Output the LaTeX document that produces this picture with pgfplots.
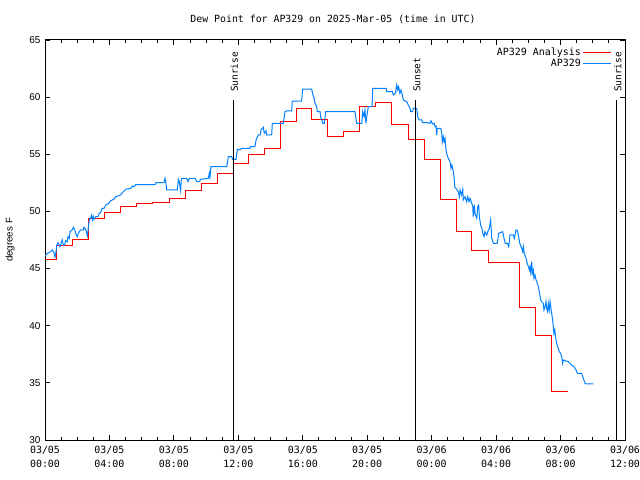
\documentclass[border=0pt]{standalone}
\usepackage{fontspec}
\setmainfont{DejaVu Sans Mono}
\newfontfamily\lsans{Liberation Sans}
\usepackage{pgfplots}
\pgfplotsset{compat=1.18}
\definecolor{obsblue}{RGB}{0,128,255}
\definecolor{anared}{RGB}{255,0,0}
\begin{document}
\begin{tikzpicture}
\path[use as bounding box] (0bp,0bp) rectangle (640bp,480bp);
\node[font=\fontsize{9.9}{11}\selectfont] at (333bp,461bp) {Dew Point for AP329 on 2025-Mar-05 (time in UTC)};
\node[rotate=90, font=\lsans\fontsize{9.8}{11}\selectfont] at (10bp,240bp) {degrees F};
\begin{axis}[
  at={(45bp,40bp)}, anchor=south west,
  scale only axis, width=580bp, height=400bp,
  xmin=0, xmax=36, ymin=30, ymax=65,
  xtick={0,4,...,36},
  xticklabels={{03/05\\00:00},{03/05\\04:00},{03/05\\08:00},{03/05\\12:00},{03/05\\16:00},{03/05\\20:00},{03/06\\00:00},{03/06\\04:00},{03/06\\08:00},{03/06\\12:00}},
  xticklabel style={align=center, font=\fontsize{10}{14}\selectfont, yshift=-3bp},
  minor x tick num=3,
  ytick={30,35,...,65},
  yticklabel style={font=\lsans\fontsize{10}{11}\selectfont, xshift=-1bp},
  /pgf/number format/assume math mode=true,
  tick align=inside,
  major tick length=5bp, minor tick length=3bp,
  tick style={black, line width=0.8bp},
  axis line style={line width=1bp},
  legend cell align=right,
  legend plot pos=right,
  legend style={draw=none, fill=none, at={(rel axis cs:1,1)}, anchor=north east, xshift=-12bp, yshift=-4.5bp, font=\fontsize{10}{13}\selectfont, row sep=-1.5bp, inner sep=1bp},
  legend image code/.code={\draw[#1] (4bp,0bp) -- (32bp,0bp);},
]
\addplot[anared, line width=1bp, const plot] coordinates {
(0,45.8) (0.7,47.0) (1.7,47.55) (2.7,49.4) (3.7,49.9) (4.7,50.4) (5.7,50.65) (6.7,50.8) (7.7,51.1) (8.7,51.8) (9.7,52.45) (10.7,53.3) (11.7,54.15) (12.6,55.0) (13.6,55.52) (14.6,57.89) (15.58,59.02) (16.55,58.06) (17.55,56.57) (18.5,56.95) (19.5,59.2) (20.5,59.49) (21.5,57.62) (22.55,56.31) (23.55,54.5) (24.56,51.06) (25.55,48.26) (26.5,46.6) (27.5,45.55) (29.45,41.55) (30.46,39.16) (31.45,34.2) (32.45,34.2)
};
\addlegendentry{AP329 Analysis}
\addplot[obsblue, line width=1bp] coordinates {
(0,46.1) (0.14,46.33) (0.35,46.48) (0.45,46.63) (0.56,46.39) (0.62,45.99) (0.66,46.19) (0.73,47.06) (0.81,47.27) (0.93,46.91)
(1.07,47.5) (1.14,47.06) (1.22,47.06) (1.28,47.44) (1.38,47.35) (1.43,47.79) (1.51,47.65) (1.55,48.23) (1.69,48.38) (1.76,48.61)
(1.84,48.44) (1.92,48.02) (2.0,47.79) (2.07,48.09) (2.13,48.23) (2.21,48.38) (2.38,48.38) (2.42,48.61) (2.52,48.44) (2.59,48.09)
(2.63,47.85) (2.71,48.81) (2.75,49.25) (2.83,49.4) (2.9,49.69) (2.94,49.25) (3.0,49.54) (3.04,49.31) (3.15,49.54) (3.29,49.54)
(3.37,49.84) (3.45,49.89) (3.54,50.27) (3.66,50.27) (3.77,50.56) (3.97,50.71) (4.07,50.94) (4.28,51.06) (4.38,51.29) (4.7,51.44)
(4.8,51.64) (5.01,51.94) (5.32,52.02) (5.42,52.22) (5.52,52.16) (5.63,52.34) (6.83,52.34) (6.89,52.51) (7.39,52.51) (7.45,52.9)
(7.51,52.46) (7.55,51.88) (8.21,51.88) (8.28,52.81) (8.34,52.6) (8.38,52.16) (8.42,51.81) (8.46,52.81) (8.5,52.9) (8.8,52.9)
(8.88,52.6) (8.96,52.9) (9.31,52.9) (9.42,52.6) (9.58,52.6) (9.66,52.81) (10.14,52.9) (10.2,53.34) (10.24,52.99) (10.3,53.91)
(11.28,53.91) (11.32,54.21) (11.38,54.79) (11.59,54.79) (11.65,54.56) (11.86,54.56) (11.94,55.45) (12.1,55.38) (12.21,55.52) (12.72,55.52)
(12.77,55.67) (13.03,55.67) (13.1,56.25) (13.24,56.69) (13.35,56.69) (13.41,57.13) (13.55,57.36) (13.61,56.84) (13.72,57.06) (13.76,56.69)
(14.07,56.69) (14.11,57.71) (14.79,57.71) (14.9,58.73) (15.0,58.79) (15.31,58.79) (15.35,59.66) (15.93,59.66) (15.99,60.71) (16.55,60.71)
(16.61,60.33) (16.7,59.9) (16.76,59.46) (16.86,59.17) (16.9,58.73) (17.07,58.73) (17.11,58.29) (17.24,57.71) (17.34,57.71) (17.42,58.73)
(19.24,58.73) (19.3,58.15) (19.35,57.71) (19.66,57.71) (19.72,58.73) (19.8,58.29) (19.86,58.88) (19.92,57.71) (20.0,58.59) (20.07,59.17)
(20.3,59.17) (20.34,60.77) (21.17,60.77) (21.21,60.48) (21.56,60.48) (21.62,60.19) (21.75,60.33) (21.83,61.06) (21.89,60.63) (21.95,60.92)
(22.03,60.33) (22.1,60.63) (22.18,60.19) (22.24,59.75) (22.45,59.6) (22.55,59.31) (22.66,59.02) (22.7,58.73) (22.82,58.73) (22.86,59.02)
(23.07,59.02) (23.13,58.29) (23.23,58.0) (23.38,58.0) (23.44,57.77) (23.69,57.77) (23.9,57.71) (23.96,57.94) (24.06,57.65) (24.15,57.71)
(24.21,57.42) (24.27,57.48) (24.31,56.69) (24.35,57.27) (24.56,57.27) (24.62,56.98) (24.66,56.1) (24.72,56.54) (24.77,56.1) (24.83,56.4)
(24.89,55.38) (24.93,55.09) (25.03,54.65) (25.14,54.35) (25.2,53.77) (25.26,54.06) (25.34,53.48) (25.39,53.04) (25.43,52.16) (25.55,51.93)
(25.65,51.73) (25.72,51.29) (25.76,51.88) (25.86,51.44) (25.93,51.93) (25.96,51.0) (26.07,51.29) (26.17,50.85) (26.24,51.29) (26.32,50.85)
(26.38,51.15) (26.49,50.71) (26.55,50.42) (26.58,49.54) (26.65,50.56) (26.69,49.83) (26.8,49.4) (26.86,50.42) (26.92,50.56) (26.96,49.54)
(27.04,48.81) (27.12,48.52) (27.2,47.94) (27.25,47.79) (27.31,48.23) (27.42,47.94) (27.52,48.38) (27.58,48.52) (27.66,49.25) (27.73,47.65)
(27.83,47.21) (28.07,47.21) (28.16,48.09) (28.41,48.23) (28.49,47.65) (28.57,47.21) (28.7,47.21) (28.78,46.92) (28.82,47.35) (28.86,47.94)
(29.07,47.94) (29.13,47.65) (29.24,48.38) (29.32,48.31) (29.4,47.79) (29.44,47.44) (29.48,47.15) (29.59,46.77) (29.65,46.48) (29.69,46.92)
(29.75,46.33) (29.86,45.9) (29.9,45.6) (30.0,45.17) (30.06,44.88) (30.1,45.17) (30.15,44.64) (30.21,45.6) (30.25,44.59) (30.31,44.88)
(30.35,44.15) (30.41,44.44) (30.48,44.0) (30.56,43.71) (30.62,43.42) (30.68,42.98) (30.77,42.25) (30.83,42.1) (30.93,41.96) (30.97,41.38)
(31.04,41.66) (31.1,42.1) (31.14,41.52) (31.2,41.23) (31.24,41.96) (31.3,41.38) (31.35,42.1) (31.39,41.66) (31.45,41.08) (31.51,40.5)
(31.55,39.91) (31.59,39.33) (31.64,39.63) (31.68,39.19) (31.72,38.75) (31.76,38.46) (31.86,38.02) (31.92,37.73) (32.01,37.58) (32.07,37.29)
(32.13,36.71) (32.17,37.0) (32.28,36.94) (32.48,36.85) (32.59,36.71) (32.69,36.56) (32.83,36.42) (32.96,36.13) (33.04,35.83) (33.31,35.83)
(33.41,35.4) (33.52,34.96) (33.58,34.9) (34.03,34.9)
};
\addlegendentry{AP329}
\addplot[black, line width=1bp, forget plot] coordinates {(11.67,30) (11.67,59.75)};
\addplot[black, line width=1bp, forget plot] coordinates {(22.97,30) (22.97,59.75)};
\addplot[black, line width=1bp, forget plot] coordinates {(35.48,30) (35.48,59.75)};
\node[rotate=90, anchor=west, inner sep=0pt, font=\fontsize{9.5}{11}\selectfont] at (axis cs:11.75,60.45) {Sunrise};
\node[rotate=90, anchor=west, inner sep=0pt, font=\fontsize{9.5}{11}\selectfont] at (axis cs:23.08,60.45) {Sunset};
\node[rotate=90, anchor=west, inner sep=0pt, font=\fontsize{9.5}{11}\selectfont] at (axis cs:35.56,60.45) {Sunrise};
\end{axis}
\end{tikzpicture}
\end{document}
